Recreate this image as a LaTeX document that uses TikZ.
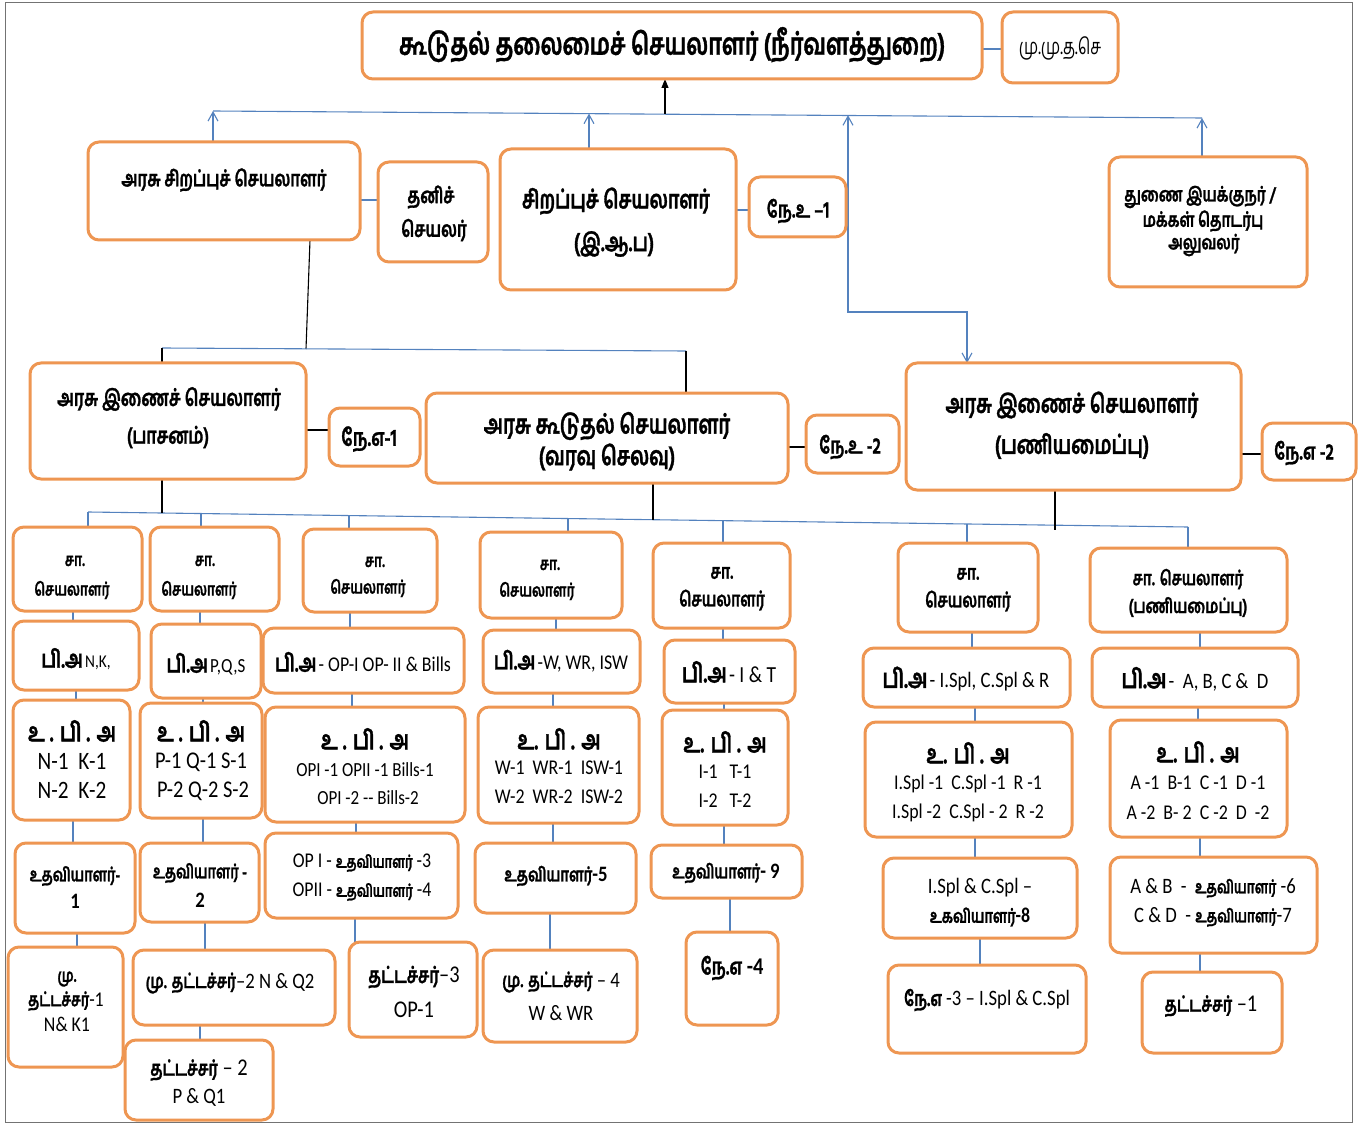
\documentclass[tikz,border=0pt]{standalone}
\usepackage{fontspec}
\setmainfont{Carlito}
\newfontfamily\ta[Script=Tamil,FakeStretch=0.72,BoldFeatures={FakeBold=1.2}]{Hind Madurai}
\newfontfamily\lat[FakeStretch=0.85]{Carlito}
\usetikzlibrary{arrows.meta,calc}
\pgfdeclarelayer{background}
\pgfsetlayers{background,main}
\definecolor{orng}{RGB}{238,150,82}
\definecolor{lblue}{RGB}{84,130,190}
\newcommand\tamf[1]{\fontsize{#1}{#1}\selectfont\ta\bfseries}
\newcommand\tamr[1]{\fontsize{#1}{#1}\selectfont\ta}
\newcommand\latf[1]{\fontsize{#1}{#1}\selectfont\lat}
\newcommand\latb[1]{\fontsize{#1}{#1}\selectfont\lat\bfseries}
\newcommand\bx[5]{\node[obox, minimum width={(#4-#2)*1pt}, minimum height={(#5-#3)*1pt}] (#1) at ({(#2+#4)/2},{(#3+#5)/2}) {};}
\newcommand\tline[4]{\node[txt] (#1) at (#2,#3) {#4};}
\newcommand\vcon[3]{\coordinate (vlx) at (#3,0); \draw[bl] (#1.south -| vlx) -- (#2.north -| vlx);}
\newcommand\hcon[4]{\coordinate (hly) at (0,#3); \draw[#4] (#1.east |- hly) -- (#2.west |- hly);}
\begin{document}
\begin{tikzpicture}[x=1pt,y=-1pt,
  obox/.style={draw=orng, line width=3pt, rounded corners=11pt, fill=white, inner sep=0pt, outer sep=0pt},
  txt/.style={inner sep=0pt, outer sep=0pt, anchor=center, text=black},
  bl/.style={draw=lblue, line width=1.1pt},
  blk/.style={draw=black, line width=1.1pt},
  ba/.style={-{Straight Barb[length=9pt,width=10pt]}},
  bab/.style={{Straight Barb[length=9pt,width=10pt]}-{Straight Barb[length=9pt,width=10pt]}},
  ka/.style={-{Triangle[length=9pt,width=7pt]}}]
\useasboundingbox (0,0) rectangle (1366,1123);
% ---------- boxes ----------
\bx{title}{362}{12}{982}{79}
\bx{mmts}{1002}{12}{1118}{83}
\bx{asir}{88}{142}{360}{240}
\bx{thani}{378}{162}{488}{262}
\bx{sir}{500}{149}{736}{290}
\bx{neu1}{749}{177}{846}{237}
\bx{thunai}{1109}{157}{1307}{287}
\bx{pas}{30}{363}{306}{479}
\bx{nee1}{329}{408}{420}{466}
\bx{var}{426}{393}{788}{483}
\bx{neu2}{806}{415}{899}{473}
\bx{pani}{906}{363}{1241}{490}
\bx{nee2}{1262}{423}{1356}{480}
\bx{sa1}{13}{527}{142}{611}
\bx{sa2}{150}{527}{279}{611}
\bx{sa3}{303}{529}{437}{612}
\bx{sa4}{480}{532}{622}{618}
\bx{sa5}{653}{543}{790}{628}
\bx{sa6}{898}{543}{1038}{632}
\bx{sa7}{1090}{548}{1287}{632}
\bx{pa1}{13}{621}{139}{690}
\bx{pa2}{151}{624}{261}{698}
\bx{pa3}{263}{628}{464}{693}
\bx{pa4}{483}{630}{640}{693}
\bx{pa5}{664}{640}{795}{703}
\bx{pa6}{863}{648}{1070}{707}
\bx{pa7}{1092}{648}{1298}{707}
\bx{upa1}{13}{700}{130}{820}
\bx{upa2}{140}{703}{262}{818}
\bx{upa3}{265}{707}{465}{822}
\bx{upa4}{478}{707}{639}{823}
\bx{upa5}{662}{710}{788}{825}
\bx{upa6}{865}{722}{1072}{837}
\bx{upa7}{1110}{720}{1287}{837}
\bx{uth1}{15}{843}{135}{933}
\bx{uth2}{140}{843}{259}{922}
\bx{uth3}{265}{833}{458}{918}
\bx{uth4}{475}{843}{636}{913}
\bx{uth5}{651}{845}{802}{898}
\bx{uth6}{883}{858}{1077}{938}
\bx{uth7}{1110}{857}{1317}{953}
\bx{rc1}{8}{947}{123}{1067}
\bx{rc2}{133}{950}{335}{1025}
\bx{rc2b}{125}{1040}{273}{1120}
\bx{tat3}{349}{942}{477}{1037}
\bx{rc4}{483}{950}{637}{1042}
\bx{nee4}{686}{932}{778}{1025}
\bx{nee3}{888}{965}{1086}{1053}
\bx{tat1}{1142}{972}{1282}{1053}
% ---------- texts ----------
\tline{title-t}{672}{46}{\tamf{30.5}கூடுதல் தலைமைச் செயலாளர் (நீர்வளத்துறை)}
\tline{mmts-t}{1060}{48}{\tamr{22}மு.மு.த.செ}
\tline{asir-t}{224}{180}{\tamf{22}அரசு சிறப்புச் செயலாளர்}
\tline{thani-t1}{431}{197}{\tamf{22}தனிச்}
\tline{thani-t2}{434}{230}{\tamf{22}செயலர்}
\tline{sir-t1}{616}{201}{\tamf{25.5}சிறப்புச் செயலாளர்}
\tline{sir-t2}{614}{244}{\tamf{25.5}(இ.ஆ.ப)}
\tline{neu1-t}{798}{211}{\tamf{23}நே.உ –1}
\tline{thunai-t1}{1200}{197}{\tamf{20}துணை இயக்குநர் /}
\tline{thunai-t2}{1203}{221}{\tamf{20}மக்கள் தொடர்பு}
\tline{thunai-t3}{1204}{245}{\tamf{20}அலுவலர்}
\tline{pas-t1}{169}{399}{\tamf{23}அரசு இணைச் செயலாளர்}
\tline{pas-t2}{168}{437}{\tamf{23}(பாசனம்)}
\tline{nee1-t}{369}{439}{\tamf{24}நே.எ-1}
\tline{var-t1}{607}{426}{\tamf{26.5}அரசு கூடுதல் செயலாளர்}
\tline{var-t2}{607}{457}{\tamf{26.5}(வரவு செலவு)}
\tline{neu2-t}{850}{447}{\tamf{23}நே.உ -2}
\tline{pani-t1}{1072}{405}{\tamf{26}அரசு இணைச் செயலாளர்}
\tline{pani-t2}{1072}{446}{\tamf{26}(பணியமைப்பு)}
\tline{nee2-t}{1304}{453}{\tamf{23}நே.எ -2}
% row sa
\tline{sa1-a}{75}{561}{\tamf{18}சா.}
\tline{sa1-b}{72}{590}{\tamf{18}செயலாளர்}
\tline{sa2-a}{205}{561}{\tamf{18}சா.}
\tline{sa2-b}{199}{590}{\tamf{18}செயலாளர்}
\tline{sa3-a}{375}{562}{\tamf{18}சா.}
\tline{sa3-b}{368}{588}{\tamf{18}செயலாளர்}
\tline{sa4-a}{550}{565}{\tamf{18}சா.}
\tline{sa4-b}{537}{591}{\tamf{18}செயலாளர்}
\tline{sa5-a}{722}{573}{\tamf{20.5}சா.}
\tline{sa5-b}{722}{600}{\tamf{20.5}செயலாளர்}
\tline{sa6-a}{968}{574}{\tamf{20.5}சா.}
\tline{sa6-b}{968}{601}{\tamf{20.5}செயலாளர்}
\tline{sa7-a}{1188}{579}{\tamf{20}சா. செயலாளர்}
\tline{sa7-b}{1188}{607}{\tamf{20}(பணியமைப்பு)}
% row pa
\tline{pa1-t}{76}{659}{{\tamf{24.5}பி.அ} {\latf{18}N,K,}}
\tline{pa2-t}{206}{664}{{\tamf{24.5}பி.அ} {\latf{20}P,Q,S}}
\tline{pa3-t}{363}{662}{{\tamf{24.5}பி.அ} {\latf{21}- OP-I OP- II \& Bills}}
\tline{pa4-t}{561}{661}{{\tamf{24.5}பி.அ} {\latf{21}-W, WR, ISW}}
\tline{pa5-t}{729}{672}{{\tamf{26.5}பி.அ} {\latf{23}- I \& T}}
\tline{pa6-t}{966}{679}{{\tamf{26.5}பி.அ} {\latf{22}- I.Spl, C.Spl \& R}}
\tline{pa7-t}{1195}{679}{{\tamf{26.5}பி.அ} {\latf{22}-\ \ A, B, C \&\ \ D}}
% row upa
\tline{upa1-a}{72}{731}{\tamf{26.5}உ . பி . அ}
\tline{upa1-b}{72}{761}{\latf{25}N-1\ \ K-1}
\tline{upa1-c}{72}{790}{\latf{25}N-2\ \ K-2}
\tline{upa2-a}{201}{731}{\tamf{26.5}உ . பி . அ}
\tline{upa2-b}{201}{762}{\latf{24}P-1 Q-1 S-1}
\tline{upa2-c}{203}{791}{\latf{24}P-2 Q-2 S-2}
\tline{upa3-a}{365}{739}{\tamf{26.5}உ . பி . அ}
\tline{upa3-b}{365}{770}{\latf{20}OPI -1 OPII -1 Bills-1}
\tline{upa3-c}{368}{798}{\latf{20}OPI -2 -{}- Bills-2}
\tline{upa4-a}{559}{739}{\tamf{26.5}உ. பி . அ}
\tline{upa4-b}{559}{768}{\latf{21}W-1\ \ WR-1\ \ ISW-1}
\tline{upa4-c}{559}{797}{\latf{21}W-2\ \ WR-2\ \ ISW-2}
\tline{upa5-a}{725}{742}{\tamf{26.5}உ. பி . அ}
\tline{upa5-b}{725}{772}{\latf{21}I-1\hspace{12pt}T-1}
\tline{upa5-c}{725}{801}{\latf{21}I-2\hspace{12pt}T-2}
\tline{upa6-a}{968}{753}{\tamf{26.5}உ. பி . அ}
\tline{upa6-b}{968}{784}{\latf{21}I.Spl -1\ \ C.Spl -1\ \ R -1}
\tline{upa6-c}{968}{813}{\latf{21}I.Spl -2\ \ C.Spl - 2\ \ R -2}
\tline{upa7-a}{1198}{752}{\tamf{26.5}உ. பி . அ}
\tline{upa7-b}{1198}{783}{\latf{21}A -1\ \ B-1\ \ C -1\ \ D -1}
\tline{upa7-c}{1198}{813}{\latf{21}A -2\ \ B- 2\ \ C -2\ \ D\ \ -2}
% row uth
\tline{uth1-a}{75}{876}{\tamf{19}உதவியாளர்-}
\tline{uth1-b}{75}{901}{\latb{22}1}
\tline{uth2-a}{200}{873}{\tamf{19}உதவியாளர் -}
\tline{uth2-b}{200}{900}{\latb{22}2}
\tline{uth3-a}{362}{863}{{\latf{21}OP I - }{\tamf{17}உதவியாளர்}{\latf{21} -3}}
\tline{uth3-b}{362}{892}{{\latf{21}OPII - }{\tamf{17}உதவியாளர்}{\latf{21} -4}}
\tline{uth4-t}{556}{876}{{\tamf{19.5}உதவியாளர்}{\latb{22}-5}}
\tline{uth5-t}{726}{873}{{\tamf{19.5}உதவியாளர்}{\latb{22}- 9}}
\tline{uth6-a}{980}{888}{\latf{22}I.Spl \& C.Spl –}
\tline{uth6-b}{980}{917}{{\tamf{19}உகவியாளர்}{\latb{21}-8}}
\tline{uth7-a}{1213}{888}{{\latf{22}A \& B\ \ -\ \ }{\tamf{18}உதவியாளர்}{\latf{22} -6}}
\tline{uth7-b}{1213}{917}{{\latf{22}C \& D\ \ - }{\tamf{18}உதவியாளர்}{\latf{22}-7}}
% row 8
\tline{rc1-a}{67}{979}{\tamf{18}மு.}
\tline{rc1-b}{66}{1001}{{\tamf{19}தட்டச்சர்}{\latf{21}-1}}
\tline{rc1-c}{67}{1024}{\latf{21}N\& K1}
\tline{rc2-t}{230}{983}{{\tamf{20}மு. தட்டச்சர்}{\latf{22}–2 N \& Q2}}
\tline{rc2b-a}{199}{1070}{{\tamf{21}தட்டச்சர்}{\latf{24} – 2}}
\tline{rc2b-b}{199}{1097}{\latf{22}P \& Q1}
\tline{tat3-a}{414}{977}{{\tamf{22}தட்டச்சர்}{\latf{24}–3}}
\tline{tat3-b}{414}{1010}{\latf{24}OP-1}
\tline{rc4-a}{561}{982}{{\tamf{20}மு. தட்டச்சர்}{\latf{22} – 4}}
\tline{rc4-b}{561}{1013}{\latf{22}W \& WR}
\tline{nee4-t}{732}{968}{{\tamf{23}நே.எ}{\latb{24} -4}}
\tline{nee3-t}{987}{1000}{{\tamf{21}நே.எ}{\latf{22} -3 – I.Spl \& C.Spl}}
\tline{tat1-t}{1211}{1006}{{\tamf{21}தட்டச்சர்}{\latf{24} –1}}
% ---------- connectors ----------
\begin{pgfonlayer}{background}
\draw[black!55, line width=1pt] (5,3) rectangle (1352,1122);
% top bus
\coordinate (busL) at (213,111);
\coordinate (busR) at (1202,118);
\coordinate (b0) at (665,113.6);
\coordinate (b2) at (589,113.6);
\coordinate (b3) at (848,115.2);
\coordinate (bend) at (848,312);
\coordinate (pd) at (967,0);
\draw[bl] (busL) -- (busR);
\draw[blk, ka] (b0) -- (title.south -| b0);
\draw[bl, ba] (asir.north -| busL) -- (busL);
\draw[bl, ba] (sir.north -| b2) -- (b2);
\draw[bl, ba] (thunai.north -| busR) -- (busR);
\draw[bl, bab] (b3) -- (bend) -| (pani.north -| pd);
% side links
\hcon{title}{mmts}{49}{bl}
\hcon{asir}{thani}{200}{bl}
\hcon{sir}{neu1}{210}{bl}
\hcon{pas}{nee1}{430}{blk}
\hcon{var}{neu2}{447}{blk}
\hcon{pani}{nee2}{454}{blk}
% second bus
\coordinate (a1) at (310,0);
\coordinate (bus2c) at (306,349);
\coordinate (bus2L) at (162,348);
\coordinate (bus2R) at (686,351);
\draw[blk] (asir.south -| a1) -- (bus2c);
\draw[bl] (bus2L) -- (bus2R);
\draw[blk] (bus2L) -- (pas.north -| bus2L);
\draw[blk] (bus2R) -- (var.north -| bus2R);
% third bus
\coordinate (bus3L) at (88,512);
\coordinate (bus3R) at (1188,527);
\draw[bl] (bus3L) -- (bus3R);
\coordinate (k1) at (162,513);
\coordinate (k2) at (653,520);
\coordinate (k3) at (1055,530);
\draw[blk] (pas.south -| k1) -- (k1);
\draw[blk] (var.south -| k2) -- (k2);
\draw[blk] (pani.south -| k3) -- (k3);
\coordinate (d1) at (88,512);
\coordinate (d2) at (201,513.5);
\coordinate (d3) at (349,515.6);
\coordinate (d4) at (568,518.5);
\coordinate (d5) at (723,520.7);
\coordinate (d6) at (967,524);
\coordinate (d7) at (1188,527);
\draw[bl] (d1) -- (sa1.north -| d1);
\draw[bl] (d2) -- (sa2.north -| d2);
\draw[bl] (d3) -- (sa3.north -| d3);
\draw[bl] (d4) -- (sa4.north -| d4);
\draw[bl] (d5) -- (sa5.north -| d5);
\draw[bl] (d6) -- (sa6.north -| d6);
\draw[bl] (d7) -- (sa7.north -| d7);
% columns
\vcon{sa1}{pa1}{73}
\vcon{pa1}{upa1}{76}
\vcon{upa1}{uth1}{73}
\vcon{uth1}{rc1}{77}
\vcon{sa2}{pa2}{200}
\vcon{pa2}{upa2}{203}
\vcon{upa2}{uth2}{203}
\vcon{uth2}{rc2}{205}
\vcon{rc2}{rc2b}{200}
\vcon{sa3}{pa3}{350}
\vcon{pa3}{upa3}{352}
\vcon{upa3}{uth3}{356}
\vcon{uth3}{tat3}{355}
\vcon{sa4}{pa4}{556}
\vcon{pa4}{upa4}{553}
\vcon{upa4}{uth4}{553}
\vcon{uth4}{rc4}{550}
\vcon{sa5}{pa5}{723}
\vcon{pa5}{upa5}{724}
\vcon{upa5}{uth5}{724}
\vcon{uth5}{nee4}{730}
\vcon{sa6}{pa6}{972}
\vcon{pa6}{upa6}{975}
\vcon{upa6}{uth6}{975}
\vcon{uth6}{nee3}{980}
\vcon{sa7}{pa7}{1200}
\vcon{pa7}{upa7}{1198}
\vcon{upa7}{uth7}{1200}
\vcon{uth7}{tat1}{1200}
\end{pgfonlayer}
\end{tikzpicture}
\end{document}
